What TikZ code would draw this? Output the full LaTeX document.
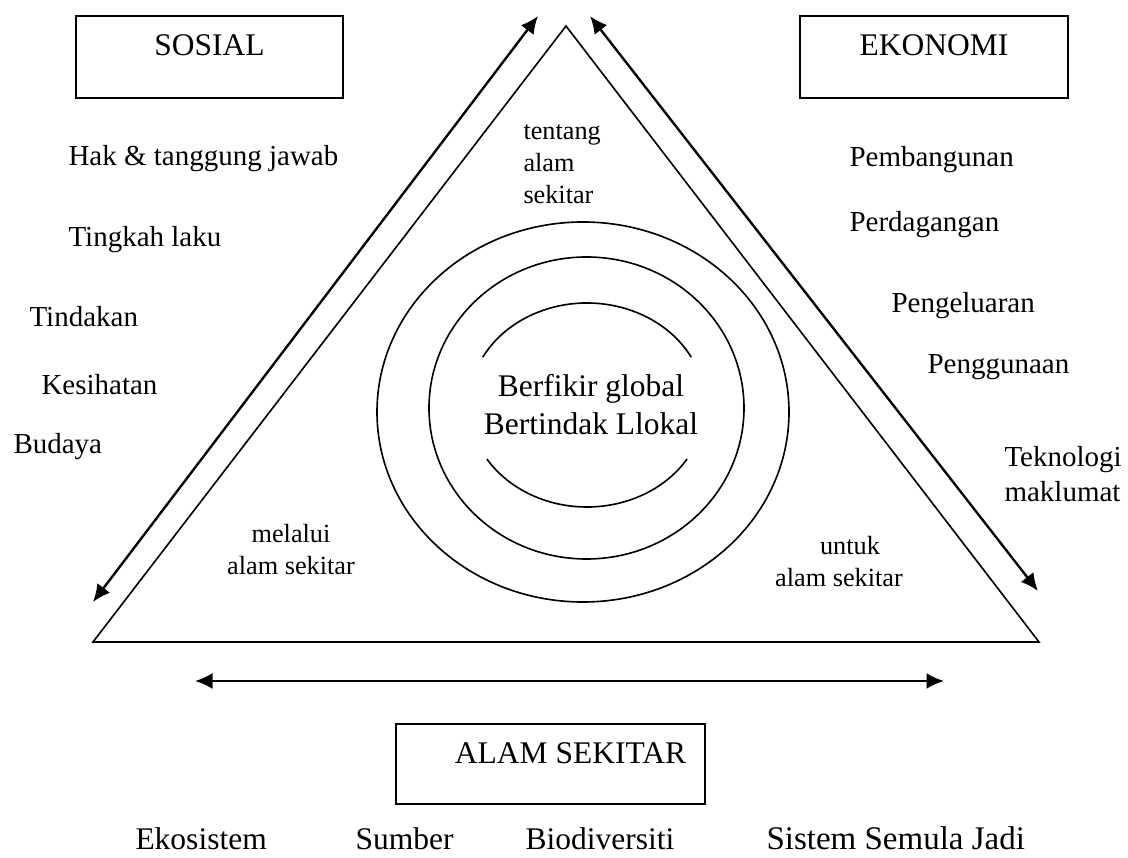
\documentclass[tikz,border=0pt]{standalone}
\usepackage{fontspec}
\setmainfont{Liberation Serif}
\usetikzlibrary{arrows.meta}

\begin{document}
\begin{tikzpicture}[x=0.4pt,y=-0.4pt,
  side/.style={line width=0.65pt},
  link/.style={line width=0.95pt,{Latex[length=7pt,width=6.4pt]}-{Latex[length=7pt,width=6.4pt]}},
  topicbox/.style={draw,line width=0.8pt,inner sep=0pt,anchor=north,text height=16pt,font=\fontsize{12.6}{15}\selectfont},
  listitem/.style={anchor=base west,inner sep=0pt,font=\fontsize{11.6}{14}\selectfont},
  smallnote/.style={inner sep=0pt,font=\fontsize{10.5}{12.8}\selectfont},
  bigtext/.style={inner sep=0pt,font=\fontsize{12.6}{15.2}\selectfont}]
\useasboundingbox (0,0) rectangle (1128,858);
\coordinate (apex) at (566,26);
\coordinate (bl) at (93,642);
\coordinate (br) at (1039,642);
\draw[side] (apex) -- (bl) -- (br) -- cycle;
\coordinate (la) at (93,602);
\coordinate (lb) at (538,16);
\coordinate (ra) at (590,16);
\coordinate (rb) at (1038,591);
\coordinate (ba) at (195,681);
\coordinate (bb) at (944,681);
\draw[link] (la) -- (lb);
\draw[link] (ra) -- (rb);
\draw[link] (ba) -- (bb);
\draw[side] (583,412) ellipse [x radius=206,y radius=190];
\draw[side] (586.5,408) ellipse [x radius=157.5,y radius=151];
\draw[side] (587,405) ++(-28:118 and 102) arc [start angle=-28,end angle=-152,x radius=118,y radius=102];
\draw[side] (587,405) ++(32:118 and 102) arc [start angle=32,end angle=148,x radius=118,y radius=102];
\node[topicbox,minimum width=106.8pt,text depth=16.8pt] (sosial) at (209.5,15) {SOSIAL};
\node[topicbox,minimum width=107.2pt,text depth=16.8pt] (ekonomi) at (934,15) {EKONOMI};
\node[topicbox,minimum width=123.6pt,text depth=16pt] (alam) at (550.5,723) {\hspace*{16pt}ALAM SEKITAR};
\node[listitem] (hak) at (68,166) {Hak \& tanggung jawab};
\node[listitem] (tingkah) at (68,247) {Tingkah laku};
\node[listitem] (tindakan) at (29,327) {Tindakan};
\node[listitem] (kesihatan) at (41,395) {Kesihatan};
\node[listitem] (budaya) at (13,454) {Budaya};
\node[listitem] (pembangunan) at (849,167) {Pembangunan};
\node[listitem] (perdagangan) at (849,232) {Perdagangan};
\node[listitem] (pengeluaran) at (891,313) {Pengeluaran};
\node[listitem] (penggunaan) at (927,374) {Penggunaan};
\node[listitem,anchor=north west,align=left,font=\fontsize{11.6}{14}\selectfont] (teknologi) at (1004,446) {Teknologi\\maklumat};
\node[smallnote,anchor=north west,align=left] (tentang) at (523,124) {tentang\\alam\\sekitar};
\node[smallnote,anchor=north,align=center] (melalui) at (291,524) {melalui\\alam sekitar};
\node[smallnote,anchor=north,align=center] (untuk) at (839,536) {\hspace*{8.8pt}untuk\\alam sekitar};
\node[bigtext,anchor=north,align=center] (berfikir) at (591,374) {Berfikir global\\Bertindak Llokal};
\node[bigtext,anchor=base west] (ekosistem) at (135,850) {Ekosistem};
\node[bigtext,anchor=base west] (sumber) at (355,850) {Sumber};
\node[bigtext,anchor=base west] (biodiversiti) at (525,850) {Biodiversiti};
\node[bigtext,anchor=base west,font=\fontsize{13.2}{15.2}\selectfont] (sistem) at (766,850) {Sistem Semula Jadi};
\end{tikzpicture}
\end{document}
